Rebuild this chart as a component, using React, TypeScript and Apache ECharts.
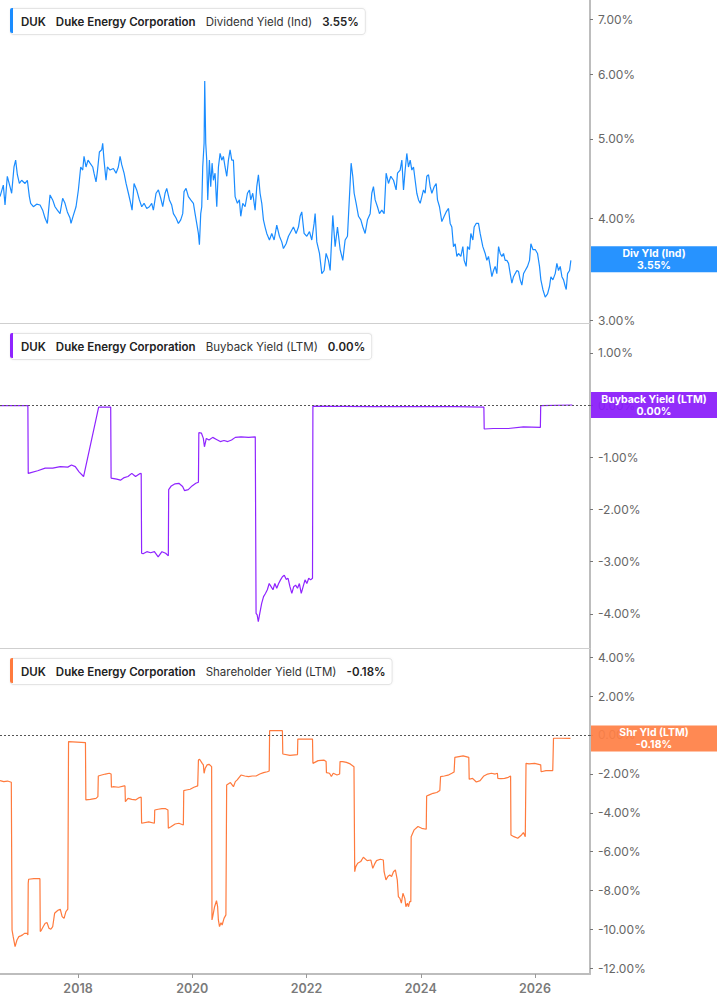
import React, { useEffect, useRef } from "react";
import * as echarts from "echarts";

// ---------- DATA (dates as decimal years, values in %) ----------
const divYield: [number, number][] = [
  [2016.634,4.25],[2016.692,4.39],[2016.722,4.15],[2016.762,4.50],[2016.809,4.37],[2016.838,4.29],[2016.879,4.62],[2016.908,4.71],[2016.938,4.52],[2016.973,4.41],[2017.013,4.45],[2017.072,4.41],[2017.113,4.45],[2017.148,4.25],[2017.171,4.17],[2017.218,4.13],[2017.276,4.16],[2017.335,4.15],[2017.381,4.09],[2017.422,4.00],[2017.463,3.94],[2017.510,4.27],[2017.556,4.21],[2017.597,4.13],[2017.638,4.09],[2017.685,4.05],[2017.731,4.23],[2017.772,4.17],[2017.813,4.07],[2017.860,4.00],[2017.877,3.94],[2017.918,4.03],[2017.965,4.13],
  [2018.006,4.33],[2018.047,4.62],[2018.082,4.58],[2018.105,4.76],[2018.140,4.62],[2018.175,4.71],[2018.210,4.67],[2018.257,4.62],[2018.280,4.54],[2018.315,4.43],[2018.339,4.56],[2018.374,4.82],[2018.415,4.85],[2018.432,4.94],[2018.455,4.71],[2018.490,4.45],[2018.514,4.62],[2018.560,4.58],[2018.619,4.60],[2018.666,4.54],[2018.706,4.62],[2018.736,4.76],[2018.765,4.65],[2018.806,4.54],[2018.841,4.41],[2018.882,4.29],[2018.922,4.17],[2018.946,4.09],[2018.981,4.41],
  [2019.027,4.33],[2019.074,4.21],[2019.115,4.13],[2019.156,4.17],[2019.203,4.11],[2019.249,4.13],[2019.290,4.17],[2019.319,4.09],[2019.366,4.29],[2019.407,4.33],[2019.448,4.23],[2019.483,4.13],[2019.524,4.29],[2019.553,4.35],[2019.600,4.21],[2019.640,4.15],[2019.670,4.05],[2019.716,4.00],[2019.757,3.94],[2019.798,3.98],[2019.833,4.05],[2019.856,4.31],[2019.891,4.35],[2019.932,4.25],[2019.973,4.21],
  [2020.020,4.17],[2020.049,4.05],[2020.078,3.94],[2020.107,3.83],[2020.125,3.71],[2020.148,4.05],[2020.166,4.13],[2020.183,4.62],[2020.207,4.94],[2020.218,5.89],[2020.236,4.94],[2020.253,4.71],[2020.271,4.21],[2020.300,4.71],[2020.323,4.37],[2020.347,4.67],[2020.370,4.45],[2020.399,4.54],[2020.429,4.13],[2020.458,4.62],[2020.487,4.80],[2020.516,4.71],[2020.545,4.76],[2020.574,4.62],[2020.604,4.50],[2020.633,4.71],[2020.662,4.85],[2020.691,4.71],[2020.720,4.71],[2020.750,4.25],[2020.790,4.17],[2020.825,4.21],[2020.849,4.02],[2020.884,4.17],[2020.925,4.13],[2020.966,4.29],
  [2021.001,4.33],[2021.024,4.21],[2021.059,4.29],[2021.100,4.09],[2021.129,4.37],[2021.158,4.52],[2021.187,4.29],[2021.217,4.17],[2021.246,3.98],[2021.275,3.90],[2021.304,3.83],[2021.351,3.76],[2021.392,3.83],[2021.433,3.76],[2021.479,3.92],[2021.526,3.80],[2021.567,3.74],[2021.596,3.67],[2021.643,3.72],[2021.684,3.80],[2021.771,3.90],[2021.818,3.83],[2021.859,3.90],[2021.888,4.02],[2021.917,4.07],[2021.958,3.83],
  [2022.005,3.80],[2022.052,3.85],[2022.092,3.76],[2022.133,3.94],[2022.151,4.05],[2022.180,3.74],[2022.227,3.62],[2022.268,3.42],[2022.308,3.45],[2022.343,3.62],[2022.384,3.55],[2022.414,3.45],[2022.460,4.03],[2022.501,3.69],[2022.542,3.90],[2022.589,3.66],[2022.635,3.55],[2022.676,3.76],[2022.717,3.80],[2022.752,4.25],[2022.781,4.67],[2022.810,4.50],[2022.834,4.29],[2022.869,4.17],[2022.910,4.02],[2022.951,3.98],[2022.986,3.90],
  [2023.026,3.83],[2023.067,3.98],[2023.114,4.05],[2023.143,4.29],[2023.172,4.37],[2023.202,4.21],[2023.242,4.13],[2023.277,4.05],[2023.318,4.09],[2023.359,4.05],[2023.394,4.54],[2023.435,4.41],[2023.476,4.50],[2023.523,4.45],[2023.569,4.33],[2023.593,4.54],[2023.639,4.58],[2023.669,4.71],[2023.698,4.33],[2023.727,4.58],[2023.756,4.80],[2023.785,4.62],[2023.815,4.71],[2023.844,4.58],[2023.873,4.62],[2023.902,4.45],[2023.931,4.29],[2023.961,4.21],[2023.990,4.17],
  [2024.019,4.25],[2024.048,4.33],[2024.077,4.29],[2024.106,4.50],[2024.136,4.52],[2024.165,4.37],[2024.194,4.29],[2024.235,4.37],[2024.270,4.41],[2024.293,4.21],[2024.328,4.13],[2024.369,3.96],[2024.410,4.02],[2024.445,4.07],[2024.486,4.11],[2024.515,3.94],[2024.544,3.90],[2024.573,3.69],[2024.603,3.72],[2024.632,3.59],[2024.661,3.62],[2024.702,3.59],[2024.737,3.69],[2024.760,3.55],[2024.795,3.49],[2024.819,3.69],[2024.854,3.66],[2024.877,3.83],[2024.912,3.76],[2024.935,3.90],[2024.970,3.94],
  [2025.011,3.94],[2025.040,3.83],[2025.087,3.69],[2025.128,3.62],[2025.157,3.55],[2025.186,3.59],[2025.216,3.49],[2025.245,3.39],[2025.274,3.45],[2025.303,3.49],[2025.332,3.42],[2025.362,3.69],[2025.391,3.62],[2025.420,3.59],[2025.449,3.62],[2025.478,3.55],[2025.507,3.55],[2025.537,3.52],[2025.566,3.42],[2025.595,3.33],[2025.624,3.39],[2025.653,3.42],[2025.683,3.45],[2025.712,3.44],[2025.741,3.36],[2025.770,3.31],[2025.800,3.42],[2025.829,3.45],[2025.869,3.49],[2025.904,3.55],[2025.928,3.72],[2025.963,3.66],
  [2026.004,3.66],[2026.044,3.62],[2026.079,3.49],[2026.103,3.36],[2026.138,3.27],[2026.179,3.20],[2026.220,3.23],[2026.255,3.30],[2026.278,3.39],[2026.313,3.36],[2026.354,3.42],[2026.383,3.52],[2026.412,3.45],[2026.442,3.49],[2026.471,3.39],[2026.500,3.36],[2026.529,3.30],[2026.547,3.27],[2026.570,3.42],[2026.605,3.45],[2026.628,3.55],
];

const buybackYield: [number, number][] = [
  [2016.634,-0.01],[2017.122,-0.01],
  [2017.128,-1.31],[2017.161,-1.30],[2017.293,-1.26],[2017.425,-1.21],[2017.557,-1.21],[2017.689,-1.18],[2017.821,-1.19],[2017.886,-1.15],[2017.952,-1.18],[2018.018,-1.28],[2018.097,-1.37],
  [2018.361,-0.04],[2018.572,-0.04],
  [2018.579,-1.40],[2018.678,-1.42],[2018.743,-1.44],[2018.809,-1.39],[2018.875,-1.37],[2018.941,-1.31],[2019.007,-1.37],[2019.073,-1.32],[2019.106,-1.31],
  [2019.113,-2.84],[2019.139,-2.85],[2019.205,-2.81],[2019.271,-2.83],[2019.337,-2.81],[2019.403,-2.91],[2019.469,-2.81],[2019.534,-2.84],[2019.581,-2.89],
  [2019.587,-1.62],[2019.633,-1.55],[2019.699,-1.51],[2019.765,-1.50],[2019.831,-1.56],[2019.864,-1.64],[2019.930,-1.62],[2019.996,-1.55],[2020.062,-1.50],[2020.108,-1.48],
  [2020.115,-0.53],[2020.161,-0.54],[2020.194,-0.64],[2020.213,-0.80],[2020.246,-0.64],[2020.293,-0.67],[2020.358,-0.62],[2020.424,-0.66],[2020.490,-0.70],[2020.556,-0.68],[2020.622,-0.70],[2020.688,-0.67],[2020.754,-0.62],[2020.853,-0.61],[2020.985,-0.62],[2021.103,-0.61],
  [2021.117,-3.99],[2021.136,-4.02],[2021.156,-4.15],[2021.182,-3.99],[2021.215,-3.80],[2021.248,-3.67],[2021.281,-3.61],[2021.314,-3.54],[2021.347,-3.42],[2021.380,-3.48],[2021.413,-3.54],[2021.446,-3.42],[2021.479,-3.51],[2021.512,-3.42],[2021.545,-3.35],[2021.578,-3.29],[2021.611,-3.26],[2021.644,-3.34],[2021.677,-3.32],[2021.710,-3.48],[2021.743,-3.61],[2021.776,-3.48],[2021.809,-3.45],[2021.842,-3.51],[2021.875,-3.42],[2021.908,-3.61],[2021.941,-3.48],[2021.974,-3.35],[2022.006,-3.42],[2022.039,-3.32],[2022.072,-3.35],[2022.105,-3.32],
  [2022.112,-0.02],[2023.160,-0.03],[2024.610,-0.03],[2025.105,-0.04],
  [2025.111,-0.46],[2025.269,-0.45],[2025.533,-0.45],[2025.797,-0.42],[2026.094,-0.43],
  [2026.100,-0.01],[2026.654,0.00],
];

const shareholderYield: [number, number][] = [
  [2016.634,-2.35],[2016.700,-2.40],[2016.766,-2.37],[2016.832,-2.43],
  [2016.845,-10.03],[2016.865,-10.37],[2016.898,-10.88],[2016.931,-10.54],[2016.964,-10.37],[2016.997,-10.33],[2017.030,-10.28],[2017.062,-10.20],[2017.109,-10.20],[2017.122,-10.28],
  [2017.128,-7.63],[2017.135,-7.42],[2017.227,-7.39],[2017.333,-7.39],
  [2017.339,-10.11],[2017.359,-10.03],[2017.392,-9.85],[2017.425,-9.68],[2017.458,-9.65],[2017.491,-9.94],[2017.524,-9.99],[2017.557,-9.85],[2017.590,-9.17],[2017.623,-9.08],[2017.656,-9.00],[2017.689,-8.96],[2017.722,-9.34],[2017.755,-9.43],[2017.788,-9.08],[2017.821,-8.96],
  [2017.834,-0.34],[2018.130,-0.39],
  [2018.137,-3.34],[2018.216,-3.31],[2018.315,-3.26],[2018.348,-3.17],
  [2018.355,-2.11],[2018.414,-2.06],[2018.480,-2.01],[2018.546,-1.97],[2018.579,-2.01],
  [2018.585,-2.69],[2018.612,-2.66],[2018.710,-2.69],[2018.809,-2.62],[2018.822,-2.62],
  [2018.829,-3.43],[2018.875,-3.26],[2018.941,-3.31],[2019.007,-3.34],[2019.073,-3.22],[2019.106,-3.20],
  [2019.113,-4.54],[2019.238,-4.47],[2019.337,-4.54],
  [2019.343,-3.86],[2019.403,-3.82],[2019.469,-3.79],[2019.534,-3.79],[2019.574,-3.86],
  [2019.581,-4.80],[2019.633,-4.71],[2019.699,-4.58],[2019.765,-4.54],[2019.844,-4.63],
  [2019.851,-2.86],[2019.897,-2.83],[2019.963,-2.79],[2020.029,-2.69],[2020.095,-2.62],
  [2020.108,-1.29],[2020.128,-1.25],[2020.174,-1.46],[2020.194,-1.54],[2020.207,-1.97],[2020.227,-1.71],[2020.260,-1.54],[2020.293,-1.51],[2020.339,-1.63],
  [2020.345,-9.51],[2020.358,-9.34],[2020.391,-8.83],[2020.424,-8.52],[2020.444,-8.83],[2020.457,-9.51],[2020.477,-9.85],[2020.503,-9.65],[2020.523,-9.77],[2020.556,-9.43],[2020.589,-9.25],
  [2020.602,-2.57],[2020.668,-2.45],[2020.721,-2.66],[2020.754,-2.40],[2020.787,-2.31],[2020.853,-2.06],[2020.919,-2.11],[2020.985,-2.14],[2021.051,-2.11],[2021.117,-2.11],[2021.182,-2.01],[2021.248,-1.94],[2021.314,-1.89],[2021.347,-1.85],
  [2021.354,0.22],[2021.578,0.22],
  [2021.585,-0.98],[2021.710,-1.05],[2021.842,-1.01],
  [2021.848,-0.21],[2022.105,-0.21],
  [2022.112,-1.46],[2022.204,-1.32],[2022.303,-1.29],[2022.343,-1.37],
  [2022.349,-1.94],[2022.402,-1.97],[2022.435,-2.14],[2022.468,-1.97],[2022.534,-2.06],[2022.580,-2.01],
  [2022.587,-1.37],[2022.633,-1.37],[2022.699,-1.41],[2022.765,-1.49],[2022.831,-1.63],
  [2022.844,-7.03],[2022.863,-6.77],[2022.896,-6.60],[2022.949,-6.51],[2022.995,-6.29],[2023.061,-6.46],[2023.127,-6.43],[2023.160,-6.86],[2023.193,-6.63],[2023.226,-6.46],[2023.292,-6.39],[2023.345,-6.43],
  [2023.358,-7.03],[2023.391,-7.45],[2023.424,-7.28],[2023.457,-7.20],[2023.490,-7.28],[2023.523,-7.03],[2023.556,-6.94],[2023.589,-7.45],[2023.608,-8.31],[2023.635,-8.40],[2023.661,-8.65],[2023.688,-8.14],[2023.721,-8.40],[2023.740,-8.83],[2023.767,-8.65],[2023.786,-8.83],[2023.806,-8.57],[2023.826,-8.57],
  [2023.832,-5.23],[2023.885,-4.88],[2023.951,-4.71],[2024.017,-4.80],[2024.096,-4.85],
  [2024.103,-3.14],[2024.149,-3.08],[2024.215,-3.00],[2024.281,-2.96],[2024.334,-2.86],
  [2024.347,-2.14],[2024.412,-2.11],[2024.478,-2.07],[2024.544,-1.97],[2024.584,-1.90],
  [2024.597,-1.15],[2024.742,-1.08],[2024.841,-1.15],
  [2024.848,-2.28],[2024.907,-2.23],[2024.973,-2.42],[2025.039,-2.35],[2025.105,-2.11],[2025.171,-2.01],[2025.237,-1.97],[2025.303,-2.01],[2025.342,-1.97],
  [2025.349,-2.23],[2025.401,-2.25],[2025.467,-2.23],[2025.533,-2.18],[2025.573,-2.11],
  [2025.579,-5.14],[2025.632,-5.23],[2025.698,-5.31],[2025.764,-5.14],[2025.797,-5.02],[2025.830,-5.23],
  [2025.843,-1.46],[2025.896,-1.49],[2025.995,-1.46],[2026.100,-1.54],
  [2026.107,-1.89],[2026.192,-1.83],[2026.311,-1.83],
  [2026.324,-0.17],[2026.456,-0.17],[2026.621,-0.18],
];

const xRange = [2016.634, 2026.963];
const yearTicks = [2018, 2020, 2022, 2024, 2026];
const divTicks = [3, 4, 5, 6, 7];
const buybackTicks = [-4, -3, -2, -1, 0, 1];
const shrTicks = [-12, -10, -8, -6, -4, -2, 0, 2, 4];
const divRange = [2.975, 7.4];
const buybackRange = [-4.655, 1.571];
const shrRange = [-12.29, 4.47];

const ticker = "DUK";
const company = "Duke Energy Corporation";
const metricNames = ["Dividend Yield (Ind)", "Buyback Yield (LTM)", "Shareholder Yield (LTM)"];
const tagNames = ["Div Yld (Ind)", "Buyback Yield (LTM)", "Shr Yld (LTM)"];

// ---------- STYLE ----------
const FONT = "Inter, 'Noto Sans', 'DejaVu Sans', sans-serif";
const LINE_COLORS = ["#1a8cff", "#8f24ff", "#ff7a3d"];
const TAG_COLORS = ["rgba(30,143,255,0.96)", "rgba(138,28,250,0.93)", "rgba(255,128,70,0.93)"];
const GRID_TOPS = [0, 323, 648];
const GRID_HEIGHTS = [323, 325, 326];
const PLOT_W = 590;

const pct = (v: number) => (Math.abs(v) < 0.005 ? 0 : v).toFixed(2) + "%";

export default function App() {
  const ref = useRef<HTMLDivElement>(null);

  useEffect(() => {
    document.body.style.margin = "0";
    if (!ref.current) return;
    const chart = echarts.init(ref.current, null, { renderer: "svg" });

    const lastDiv = divYield[divYield.length - 1][1];
    const lastBuy = buybackYield[buybackYield.length - 1][1];
    const lastShr = shareholderYield[shareholderYield.length - 1][1];
    const lastVals = [lastDiv, lastBuy, lastShr];

    const tagLabel = (i: number) => ({
      show: true,
      position: "end",
      distance: 1,
      opacity: 1,
      formatter: () => `{t|${tagNames[i]}}\n{t|${pct(lastVals[i])}}`,
      backgroundColor: TAG_COLORS[i],
      padding: [1, 0, 1, 0],
      rich: {
        t: { width: 126, align: "center", color: "#fff", fontWeight: "bold", fontSize: 10.5, lineHeight: 12, fontFamily: FONT },
      },
    });

    const zeroLine = {
      yAxis: 0,
      lineStyle: { type: [2, 2], color: "#555", width: 1 },
      label: { show: false },
    };
    const tagLine = (i: number, yVal: number) => ({
      yAxis: yVal,
      lineStyle: { color: "rgba(0,0,0,0)", width: 0 },
      label: tagLabel(i),
    });

    const xAxes = [0, 1, 2].map((i) => ({
      type: "value",
      gridIndex: i,
      min: xRange[0],
      max: xRange[1],
      splitLine: { show: false },
      axisLine: { show: true, onZero: false, lineStyle: { color: i === 2 ? "#bdbdbd" : "#cfcfcf", width: i === 2 ? 2 : 1 } },
      axisTick: { show: i === 2, customValues: yearTicks, length: 4, lineStyle: { color: "#999" } },
      axisLabel: {
        show: i === 2,
        customValues: yearTicks,
        formatter: (v: number) => String(Math.round(v)),
        color: "#7a7a7a",
        fontSize: 12.5,
        fontWeight: 600,
        fontFamily: FONT,
        margin: 8,
      },
    }));

    const yBase = (i: number, min: number, max: number, ticks: number[], fmt: (v: number) => string) => ({
      type: "value",
      gridIndex: i,
      position: "right",
      min,
      max,
      splitLine: { show: false },
      axisLine: { show: true, onZero: false, lineStyle: { color: "#bdbdbd", width: 2 } },
      axisTick: { show: true, customValues: ticks, length: 3, lineStyle: { color: "#777" } },
      axisLabel: { customValues: ticks, formatter: fmt, color: "#666", fontSize: 12, fontFamily: FONT, margin: 8 },
    });

    const legendBox = (i: number) => {
      const top = GRID_TOPS[i] + (i === 0 ? 8 : 10);
      return [
        {
          type: "text",
          left: 10,
          top,
          z: 20,
          style: {
            text: `{b|${ticker}}{g| }{b|${company}}{g| }{r|${metricNames[i]}}{g| }{b|${pct(lastVals[i])}}`,
            backgroundColor: "#fff",
            borderColor: "#e4e4e4",
            borderWidth: 1,
            borderRadius: 3,
            padding: [6, 6, 6, 10],
            shadowColor: "rgba(0,0,0,0.06)",
            shadowBlur: 2,
            rich: {
              b: { fontFamily: FONT, fontSize: 11.5, fontWeight: 600, fill: "#222", lineHeight: 13 },
              r: { fontFamily: FONT, fontSize: 11.5, fontWeight: 400, fill: "#333", lineHeight: 13 },
              g: { fontFamily: FONT, fontSize: 11.5, width: 10, lineHeight: 13 },
            },
          },
        },
        {
          type: "rect",
          left: 10,
          top,
          z: 21,
          shape: { width: 3, height: 25, r: [2, 0, 0, 2] },
          style: { fill: LINE_COLORS[i] },
        },
      ];
    };

    const option: any = {
      animation: false,
      backgroundColor: "#fff",
      textStyle: { fontFamily: FONT },
      grid: [0, 1, 2].map((i) => ({ left: 0, top: GRID_TOPS[i], width: PLOT_W, height: GRID_HEIGHTS[i], containLabel: false })),
      xAxis: xAxes,
      yAxis: [
        yBase(0, Math.log(divRange[0]), Math.log(divRange[1]), divTicks.map((v) => Math.log(v)), (v: number) => Math.exp(v).toFixed(2) + "%"),
        yBase(1, buybackRange[0], buybackRange[1], buybackTicks, (v: number) => pct(v)),
        yBase(2, shrRange[0], shrRange[1], shrTicks, (v: number) => pct(v)),
      ],
      series: [
        {
          type: "line",
          name: metricNames[0],
          xAxisIndex: 0,
          yAxisIndex: 0,
          data: divYield.map(([t, v]) => [t, Math.log(v)]),
          showSymbol: false,
          symbol: "none",
          lineStyle: { color: LINE_COLORS[0], width: 1.2 },
          z: 3,
          markLine: { silent: true, symbol: ["none", "none"], animation: false, data: [tagLine(0, Math.log(lastDiv))] },
        },
        {
          type: "line",
          name: metricNames[1],
          xAxisIndex: 1,
          yAxisIndex: 1,
          data: buybackYield,
          showSymbol: false,
          symbol: "none",
          lineStyle: { color: LINE_COLORS[1], width: 1.2 },
          z: 3,
          markLine: { silent: true, symbol: ["none", "none"], animation: false, data: [zeroLine, tagLine(1, lastBuy)] },
        },
        {
          type: "line",
          name: metricNames[2],
          xAxisIndex: 2,
          yAxisIndex: 2,
          data: shareholderYield,
          showSymbol: false,
          symbol: "none",
          lineStyle: { color: LINE_COLORS[2], width: 1.2 },
          z: 3,
          markLine: { silent: true, symbol: ["none", "none"], animation: false, data: [zeroLine, tagLine(2, lastShr)] },
        },
      ],
      graphic: [...legendBox(0), ...legendBox(1), ...legendBox(2)],
    };

    chart.setOption(option);
    return () => chart.dispose();
  }, []);

  return <div ref={ref} style={{ width: 717, height: 1005 }} />;
}
